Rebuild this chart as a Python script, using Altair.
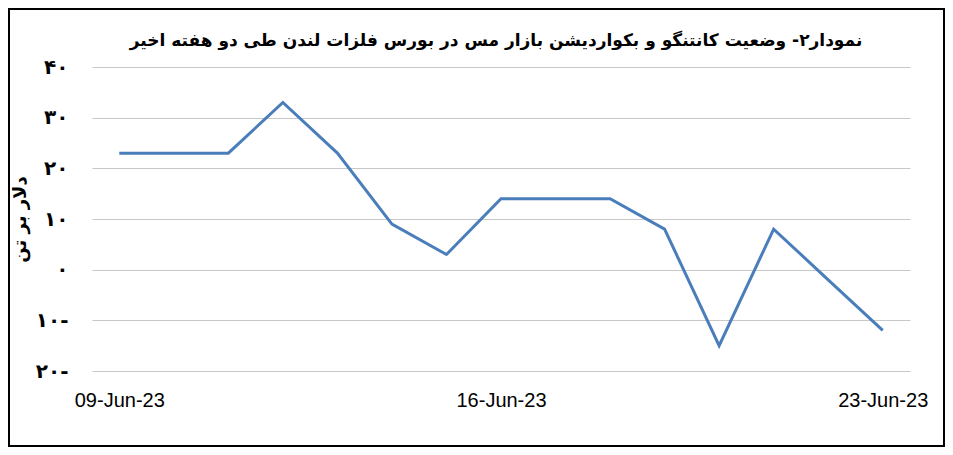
import altair as alt
import pandas as pd

# ---- data ----
dates = ["2023-06-09", "2023-06-10", "2023-06-11", "2023-06-12", "2023-06-13",
         "2023-06-14", "2023-06-15", "2023-06-16", "2023-06-17", "2023-06-18",
         "2023-06-19", "2023-06-20", "2023-06-21", "2023-06-22", "2023-06-23"]
values = [23, 23, 23, 33, 23, 9, 3, 14, 14, 14, 8, -15, 8, -2, -12]

x_tick_dates = ["2023-06-09", "2023-06-16", "2023-06-23"]
x_tick_labels = ["09-Jun-23", "16-Jun-23", "23-Jun-23"]

y_ticks = [-20, -10, 0, 10, 20, 30, 40]
y_tick_labels = ["۲۰-", "۱۰-", "۰", "۱۰", "۲۰", "۳۰", "۴۰"]

chart_title = "نمودار۲- وضعیت کانتنگو و بکواردیشن بازار مس در بورس فلزات لندن طی دو هفته اخیر"
y_title = "دلار بر تن"

# ---- build table ----
d = pd.to_datetime(dates)
start = d[0]
df = pd.DataFrame({"day": (d - start).days, "value": values})
x_tick_days = [int((pd.Timestamp(t) - start).days) for t in x_tick_dates]

x_label_expr = " : ".join(
    [f"datum.value == {v} ? '{l}'" for v, l in zip(x_tick_days, x_tick_labels)]
) + " : ''"
y_label_expr = " : ".join(
    [f"datum.value == {v} ? '{l}'" for v, l in zip(y_ticks, y_tick_labels)]
) + " : ''"

W, H = 818, 304
PL, PT, PR, PB = 84, 59, 35, 76

line = alt.Chart(df).mark_line(color="#4a7ebb", strokeWidth=3).encode(
    x=alt.X("day:Q",
            scale=alt.Scale(domain=[-0.5, 14.5], nice=False, zero=False),
            axis=alt.Axis(values=x_tick_days, labelExpr=x_label_expr, title=None,
                          grid=False, domain=False, ticks=False, labelPadding=19,
                          labelFont="Liberation Sans", labelFontSize=20,
                          labelColor="black")),
    y=alt.Y("value:Q",
            scale=alt.Scale(domain=[-20, 40], nice=False),
            axis=alt.Axis(values=y_ticks, labelExpr=y_label_expr, title=y_title,
                          grid=True, gridColor="#c8c8c8", gridWidth=1,
                          domain=False, ticks=False, labelPadding=24,
                          labelFont="DejaVu Sans", labelFontSize=20,
                          labelFontWeight="bold", labelColor="black",
                          titleFont="DejaVu Sans", titleFontSize=18,
                          titleFontWeight="bold", titleColor="black",
                          titleX=-72, titleY=H / 2, titleAngle=270,
                          titleAlign="center", titleBaseline="middle")),
)

title_mark = alt.Chart(pd.DataFrame({"a": [0]})).mark_text(
    font="DejaVu Sans", fontSize=17, fontWeight="bold", color="black",
    align="center", baseline="middle"
).encode(
    x=alt.value(404), y=alt.value(-26), text=alt.value(chart_title)
)

border = alt.Chart(pd.DataFrame({"a": [0]})).mark_rect(
    fillOpacity=0, stroke="black", strokeWidth=2
).encode(
    x=alt.value(-PL + 1), x2=alt.value(W + PR - 1),
    y=alt.value(-PT + 1), y2=alt.value(H + PB - 1),
)

chart = alt.layer(line, title_mark, border).properties(
    width=W, height=H,
    padding={"left": PL, "top": PT, "right": PR, "bottom": PB},
    autosize=alt.AutoSizeParams(type="none"),
    background="white",
).configure_view(stroke=None)

chart.save("out.html", embed_options={"renderer": "svg", "actions": False})
